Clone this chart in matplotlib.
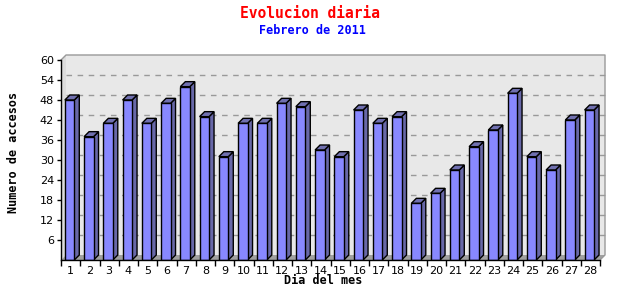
import matplotlib
matplotlib.use("Agg")
import matplotlib.pyplot as plt
from matplotlib.patches import Polygon
import numpy as np

days = list(range(1, 29))
accesos = [48, 37, 41, 48, 41, 47, 52, 43, 31, 41, 41, 47, 46, 33, 31, 45, 41, 43,
           17, 20, 27, 34, 39, 50, 31, 27, 42, 45]
yticks = [6, 12, 18, 24, 30, 36, 42, 48, 54, 60]

title = "Evolucion diaria"
subtitle = "Febrero de 2011"
xlabel = "Dia del mes"
ylabel = "Numero de accesos"

W, H = 640, 300
fig = plt.figure(figsize=(W / 100, H / 100), dpi=100)
fig.patch.set_facecolor("white")

# front plane of the 3D plot, in pixels
L, R, B, T = 61, 600, 260, 60
ax = fig.add_axes([L / W, (H - B) / H, (R - L) / W, (B - T) / H])
ax.patch.set_visible(False)
ymax = 60
ax.set_xlim(0.5, len(days) + 0.5)
ax.set_ylim(0, ymax)
for s in ax.spines.values():
    s.set_visible(False)

# 3D depth converted into data units
depth_px = 5
px_per_x = (R - L) / len(days)
px_per_y = (B - T) / ymax
dx = depth_px / px_per_x
dy = depth_px / px_per_y
x0, x1 = 0.5, len(days) + 0.5

wall_c = "#e8e8e8"
side_wall_c = "#dcdcdc"
floor_c = "#a0a0a0"
edge_gray = "#999999"

# back wall
ax.add_patch(Polygon([(x0 + dx, dy), (x1 + dx, dy), (x1 + dx, ymax + dy), (x0 + dx, ymax + dy)],
                     closed=True, facecolor=wall_c, edgecolor="none", clip_on=False, zorder=0))
# left wall
ax.add_patch(Polygon([(x0, 0), (x0 + dx, dy), (x0 + dx, ymax + dy), (x0, ymax)],
                     closed=True, facecolor=side_wall_c, edgecolor="none", clip_on=False, zorder=0))
# floor
ax.add_patch(Polygon([(x0, 0), (x1, 0), (x1 + dx, dy), (x0 + dx, dy)],
                     closed=True, facecolor=floor_c, edgecolor="none", clip_on=False, zorder=0.5))
# grid lines on back wall
for v in yticks[:-1]:
    ax.plot([x0 + dx, x1 + dx], [v + dy, v + dy], color=edge_gray, lw=1,
            ls=(0, (4, 4)), clip_on=False, zorder=0.6)
# wall outline
ax.plot([x0, x0 + dx, x1 + dx, x1 + dx, x1], [ymax, ymax + dy, ymax + dy, dy, 0],
        color=edge_gray, lw=1, clip_on=False, zorder=0.6)

# bars
front_c = "#8888ff"
side_c = "#6868a8"
top_c = "#7070b0"
bw = 0.49
off = 0.2
xs = np.array(days, dtype=float)
xl = xs - 0.5 + off
xr = xl + bw
ax.bar(xl, accesos, width=bw, align="edge", color=front_c, edgecolor="black",
       linewidth=1, zorder=2)
for a, b, v in zip(xl, xr, accesos):
    ax.add_patch(Polygon([(b, 0), (b + dx, dy), (b + dx, v + dy), (b, v)], closed=True,
                         facecolor=side_c, edgecolor="black", lw=1, zorder=1.5,
                         joinstyle="miter"))
    ax.add_patch(Polygon([(a, v), (b, v), (b + dx, v + dy), (a + dx, v + dy)], closed=True,
                         facecolor=top_c, edgecolor="black", lw=1, zorder=1.5,
                         joinstyle="miter"))

# axes lines
ax.plot([x0, x1], [0, 0], color="black", lw=1, clip_on=False, zorder=3)
ax.plot([x0, x0], [0, ymax], color="black", lw=1, clip_on=False, zorder=3)

# ticks
ax.set_yticks(yticks)
ax.set_yticklabels([str(v) for v in yticks])
ax.tick_params(axis="y", direction="out", length=3, width=1, pad=2,
               labelsize=8, colors="black")
ax.set_xticks(days)
ax.set_xticklabels([str(d) for d in days])
ax.tick_params(axis="x", which="major", length=0, pad=4, labelsize=8)
ax.set_xticks(np.arange(x0, x1 + 0.01, 1.0), minor=True)
ax.tick_params(axis="x", which="minor", direction="out", length=4, width=1)

mono = "DejaVu Sans Mono"
fig.text(310 / W, 1 - 14 / H, title, color="red", fontsize=10.5, fontweight="bold",
         family=mono, ha="center", va="center")
fig.text(312 / W, 1 - 31 / H, subtitle, color="blue", fontsize=8.5, fontweight="bold",
         family=mono, ha="center", va="center")
fig.text(323 / W, 1 - 281 / H, xlabel, color="black", fontsize=8.5, fontweight="bold",
         family=mono, ha="center", va="center")
fig.text(14 / W, 1 - 152 / H, ylabel, color="black", fontsize=8.5, fontweight="bold",
         family=mono, ha="center", va="center", rotation=90)

fig.savefig("out.png", dpi=100)
